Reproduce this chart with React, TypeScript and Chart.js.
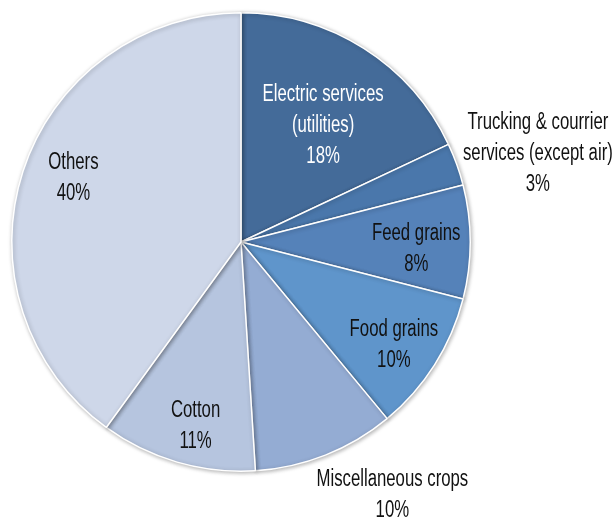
import React, { useEffect, useRef } from "react";
import { Chart, registerables } from "chart.js";

Chart.register(...registerables);

const categories = [
  ["Electric services", "(utilities)"],
  ["Trucking & courrier", "services (except air)"],
  ["Feed grains"],
  ["Food grains"],
  ["Miscellaneous crops"],
  ["Cotton"],
  ["Others"],
];
const values = [18, 3, 8, 10, 10, 11, 40];
const colors = ["#446b99", "#4a77ab", "#5582b9", "#5f95cb", "#94acd3", "#b6c5df", "#ced7e9"];
const textColors = ["#ffffff", "#111111", "#111111", "#111111", "#111111", "#111111", "#111111"];
// label placement: radius factor relative to outer radius, and pixel nudges
const labelRadius = [0.66, 1.33, 0.76, 0.8, 1.26, 0.82, 0.81];
const labelNudgeX = [1, 10, 1, -2, 45, 7, 9];
const labelNudgeY = [11, 15, 7, 5, -15, 4, -6];

const FONT = '"Liberation Sans", Arial, sans-serif';
const FONT_SIZE = 23;
const REF_TEXT = "Electric services";
const REF_WIDTH = 121;

export default function App() {
  const ref = useRef<HTMLCanvasElement>(null);
  useEffect(() => {
    const labelPlugin = {
      id: "pieLabels",
      afterDatasetsDraw(chart: any) {
        const ctx = chart.ctx;
        const meta = chart.getDatasetMeta(0);
        ctx.save();
        ctx.font = `${FONT_SIZE}px ${FONT}`;
        ctx.textAlign = "center";
        ctx.textBaseline = "middle";
        const sx = REF_WIDTH / ctx.measureText(REF_TEXT).width;
        meta.data.forEach((arc: any, i: number) => {
          const { x, y, startAngle, endAngle, outerRadius } = arc.getProps(
            ["x", "y", "startAngle", "endAngle", "outerRadius"],
            true
          );
          const mid = (startAngle + endAngle) / 2;
          const r = outerRadius * labelRadius[i];
          const cx = x + Math.cos(mid) * r + labelNudgeX[i];
          const cy = y + Math.sin(mid) * r + labelNudgeY[i];
          const lines = [...categories[i], values[i] + "%"];
          const lh = 31;
          ctx.fillStyle = textColors[i];
          lines.forEach((t, k) => {
            ctx.save();
            ctx.translate(cx, cy + (k - (lines.length - 1) / 2) * lh);
            ctx.scale(sx, 1);
            ctx.fillText(t, 0, 0);
            ctx.restore();
          });
        });
        ctx.restore();
      },
    };
    const shadowPlugin = {
      id: "pieShadow",
      beforeDatasetsDraw(chart: any) {
        const ctx = chart.ctx;
        ctx.save();
        ctx.shadowColor = "rgba(0,0,0,0.3)";
        ctx.shadowBlur = 4;
        ctx.shadowOffsetX = 1;
        ctx.shadowOffsetY = 1;
      },
      afterDatasetsDraw(chart: any) {
        chart.ctx.restore();
      },
    };
    const chart = new Chart(ref.current!, {
      type: "pie",
      data: {
        labels: categories.map((c) => c.join(" ")),
        datasets: [
          {
            data: values,
            backgroundColor: colors,
            borderColor: "#ffffff",
            borderWidth: 1.5,
          },
        ],
      },
      options: {
        animation: false,
        responsive: false,
        layout: { padding: { left: 11, top: 12, right: 145, bottom: 46 } },
        plugins: { legend: { display: false }, tooltip: { enabled: false } },
      },
      plugins: [shadowPlugin, labelPlugin],
    });
    return () => chart.destroy();
  }, []);
  return (
    <div style={{ position: "fixed", left: 0, top: 0, width: 616, height: 518, background: "#fff" }}>
      <canvas ref={ref} width={616} height={518} />
    </div>
  );
}
